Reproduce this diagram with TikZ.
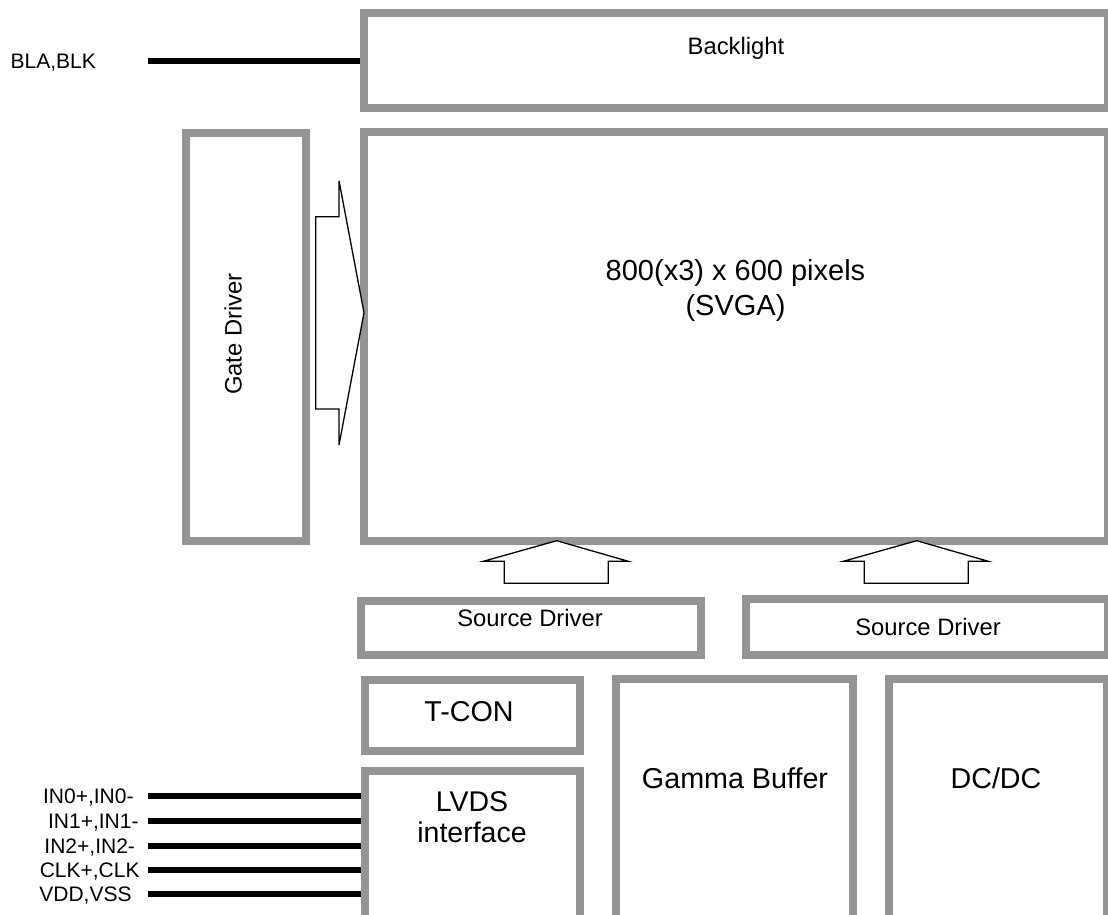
\documentclass[tikz,border=0pt]{standalone}
\usepackage{fontspec}
\setmainfont{Liberation Sans}
\definecolor{boxgray}{RGB}{148,148,148}
\begin{document}
\begin{tikzpicture}[x=1pt,y=-1pt,
  box/.style={draw=boxgray,line width=8pt,rectangle,inner sep=0pt,fill=white},
  pin/.style={line width=6pt,black},
  blockarrow/.style={draw=black,line width=1.3pt,fill=white,line join=miter},
  txt/.style={inner sep=0pt,anchor=base},
  big/.style={font=\fontsize{28.7}{31.6}\selectfont},
  mid/.style={font=\fontsize{23.8}{28}\selectfont},
  small/.style={font=\fontsize{21}{24}\selectfont}]
\useasboundingbox (0,0) rectangle (1108,915);
\begin{scope}
\clip (0,0) rectangle (1108,915);
% boxes
\node[box,minimum width=744pt,minimum height=95.5pt] (bl) at (736,60.75) {};
\node[box,minimum width=744pt,minimum height=408.5pt] (panel) at (736,336.75) {};
\node[box,minimum width=120pt,minimum height=408pt] (gate) at (246,337) {};
\node[box,minimum width=340.5pt,minimum height=54pt] (sd1) at (530.75,628) {};
\node[box,minimum width=362pt,minimum height=56pt] (sd2) at (927,627) {};
\node[box,minimum width=215.5pt,minimum height=71.3pt] (tcon) at (472.25,715.65) {};
\node[box,minimum width=215.5pt,minimum height=149pt] (lvds) at (472.25,845.5) {};
\node[box,minimum width=237pt,minimum height=241pt] (gamma) at (734.5,799.5) {};
\node[box,minimum width=218pt,minimum height=241pt] (dcdc) at (998,799.5) {};
\end{scope}
% texts
\node[txt,mid] (tbl) at (736,55) {Backlight};
\node[inner sep=0pt,align=center,font=\fontsize{29}{35}\selectfont] (tpanel) at (735.5,290) {800(x3) x 600 pixels\\(SVGA)};
\node[txt,mid,rotate=90] (tgate) at (241.7,334) {Gate Driver};
\node[txt,mid] (tsd1) at (530,626.7) {Source Driver};
\node[txt,mid] (tsd2) at (928,635) {Source Driver};
\node[txt,big] (ttcon) at (469,721.7) {T-CON};
\node[inner sep=0pt,align=center,font=\fontsize{28.5}{31.6}\selectfont] (tlvds) at (472,817.3) {LVDS\\interface};
\node[txt,big] (tgamma) at (735,788.3) {Gamma Buffer};
\node[txt,big] (tdcdc) at (996,788.3) {DC/DC};
% pin labels
\node[txt,small] (lbla) at (53.3,68.3) {BLA,BLK};
\node[txt,small] (lin0) at (88.3,803.2) {IN0+,IN0-};
\node[txt,small] (lin1) at (93.3,828.2) {IN1+,IN1-};
\node[txt,small] (lin2) at (89.7,853.2) {IN2+,IN2-};
\node[txt,small] (lclk) at (89.7,877.5) {CLK+,CLK};
\node[txt,small] (lvdd) at (85.5,901.8) {VDD,VSS};
% pin lines
\coordinate (pbla) at (148.3,61);
\coordinate (pin0) at (148.3,795.7);
\coordinate (pin1) at (148.3,820.7);
\coordinate (pin2) at (148.3,845.7);
\coordinate (pclk) at (148.3,870);
\coordinate (pvdd) at (148.3,894.3);
\draw[pin] (pbla) -- (pbla -| bl.west);
\foreach \p in {pin0,pin1,pin2,pclk,pvdd}
  \draw[pin] (\p) -- (\p -| lvds.west);
% block arrows
\draw[blockarrow] (339,216.7) -- (315.7,216.7) -- (315.7,409) -- (339,409) -- (339,445) -- (364,312.7) -- (339,180.7) -- cycle;
\foreach \dx in {0,360}{
  \draw[blockarrow,xshift=\dx] (504.3,583.3) -- (504.3,561.3) -- (483.3,561.3) -- (556.7,540.7) -- (628.3,561.3) -- (608.3,561.3) -- (608.3,583.3) -- cycle;
}
\end{tikzpicture}
\end{document}
